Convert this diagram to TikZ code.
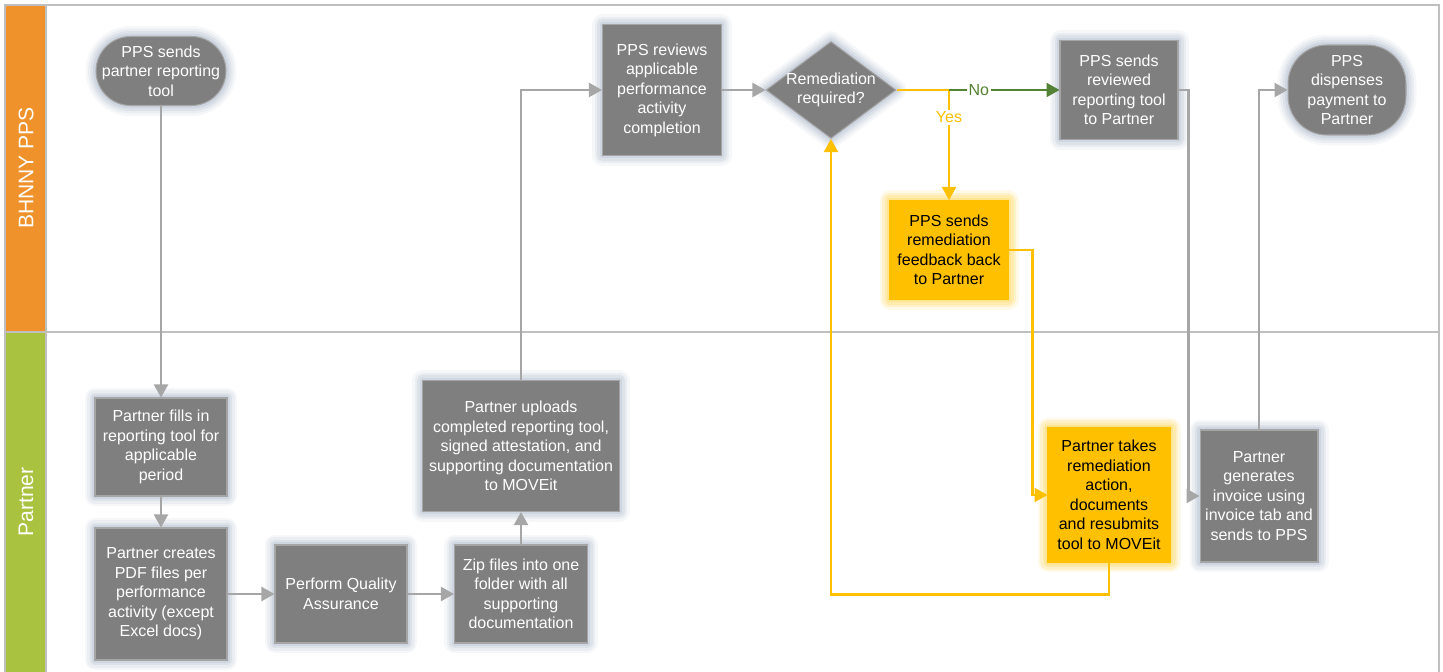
\documentclass[tikz,border=0pt]{standalone}
\usepackage{fontspec}
\setmainfont{Liberation Sans}
\usetikzlibrary{shapes.geometric,arrows.meta}
\definecolor{boxgray}{HTML}{7F7F7F}
\definecolor{edgegray}{HTML}{A5A5A5}
\definecolor{linegray}{HTML}{A6A6A6}
\definecolor{framegray}{HTML}{BFBFBF}
\definecolor{glowblue}{HTML}{B4BFD0}
\definecolor{remyellow}{HTML}{FFC000}
\definecolor{glowyellow}{HTML}{FFD966}
\definecolor{nogreen}{HTML}{548235}
\definecolor{laneorange}{HTML}{F0922B}
\definecolor{lanegreen}{HTML}{A9C23F}

\begin{document}
\begin{tikzpicture}[x=0.02cm,y=-0.02cm,font=\fontsize{9.1}{11.1}\selectfont]
    \tikzstyle{glow} = [preaction={draw=glowblue,line width=0.42cm,opacity=0.12,line join=round}, preaction={draw=glowblue,line width=0.32cm,opacity=0.18,line join=round}, preaction={draw=glowblue,line width=0.22cm,opacity=0.25,line join=round}, preaction={draw=glowblue,line width=0.12cm,opacity=0.35,line join=round}]
    \tikzstyle{yglow} = [preaction={draw=glowyellow,line width=0.42cm,opacity=0.15,line join=round}, preaction={draw=glowyellow,line width=0.32cm,opacity=0.22,line join=round}, preaction={draw=glowyellow,line width=0.22cm,opacity=0.3,line join=round}, preaction={draw=glowyellow,line width=0.12cm,opacity=0.4,line join=round}]
    \tikzstyle{proc} = [rectangle, align=center, inner sep=1pt, draw=edgegray, line width=0.6pt, fill=boxgray, text=white, glow]
    \tikzstyle{rem} = [rectangle, align=center, inner sep=1pt, draw=remyellow, line width=0.6pt, fill=remyellow, text=black, yglow]
    \tikzstyle{garrow} = [draw=linegray, line width=1.3pt, -{Triangle[length=0.26cm,width=0.28cm]}]
    \tikzstyle{yarrow} = [draw=remyellow, line width=1.3pt, -{Triangle[length=0.26cm,width=0.28cm]}]
    \tikzstyle{lane} = [rotate=90, text=white, font=\fontsize{12}{14}\selectfont]
    \useasboundingbox (0,0) rectangle (1443,672);
    \fill[laneorange] (5,5) rectangle (46,332);
    \fill[lanegreen] (5,333) rectangle (46,672);
    \draw[framegray, line width=0.8pt] (5,672) -- (5,5) -- (1439,5) -- (1439,672);
    \draw[framegray, line width=0.8pt] (5,332) -- (1439,332);
    \draw[framegray, line width=0.8pt] (46,5) -- (46,672);
    \node (bhnny) [lane] at (26,168) {BHNNY PPS};
    \node (partner) [lane] at (26,502) {Partner};

    \node (send)     [proc, rounded corners=0.69cm, minimum width=2.6cm, minimum height=1.38cm] at (161,71) {PPS sends\\partner reporting\\tool};
    \node (review)   [proc, minimum width=2.38cm, minimum height=2.62cm] at (662,90) {PPS reviews\\applicable\\performance\\activity\\completion};
    \node (remreq)   [diamond, draw=edgegray, line width=0.6pt, fill=boxgray, glow, inner sep=0pt, minimum width=2.6cm, minimum height=1.94cm, label={[text=white,align=center]center:Remediation\\required?}] at (831,90) {};
    \node (returned) [proc, minimum width=2.36cm, minimum height=1.98cm] at (1119,90) {PPS sends\\reviewed\\reporting tool\\to Partner};
    \node (pay)      [proc, rounded corners=0.78cm, minimum width=2.36cm, minimum height=1.8cm] at (1347,90) {PPS\\dispenses\\payment to\\Partner};
    \node (feedback) [rem, minimum width=2.36cm, minimum height=1.98cm] at (949,250) {PPS sends\\remediation\\feedback back\\to Partner};

    \node (fill)     [proc, minimum width=2.64cm, minimum height=1.96cm] at (161,447) {Partner fills in\\reporting tool for\\applicable\\period};
    \node (pdf)      [proc, minimum width=2.64cm, minimum height=2.64cm] at (161,594) {Partner creates\\PDF files per\\performance\\activity (except\\Excel docs)};
    \node (qa)       [proc, minimum width=2.64cm, minimum height=1.96cm] at (341,594) {Perform Quality\\Assurance};
    \node (zip)      [proc, minimum width=2.66cm, minimum height=1.96cm] at (521,594) {Zip files into one\\folder with all\\supporting\\documentation};
    \node (upload)   [proc, minimum width=3.94cm, minimum height=2.62cm] at (521,446) {Partner uploads\\completed reporting tool,\\signed attestation, and\\supporting documentation\\to MOVEit};
    \node (fix)      [rem, minimum width=2.44cm, minimum height=2.68cm] at (1109,495) {Partner takes\\remediation\\action,\\documents\\and resubmits\\tool to MOVEit};
    \node (invoice)  [proc, minimum width=2.36cm, minimum height=2.64cm] at (1259,496) {Partner\\generates\\invoice using\\invoice tab and\\sends to PPS};
    \coordinate (split) at (949,90);

    \draw[garrow] (send) -- (fill);
    \draw[garrow] (fill) -- (pdf);
    \draw[garrow] (pdf) -- (qa);
    \draw[garrow] (qa) -- (zip);
    \draw[garrow] (zip) -- (upload);
    \draw[garrow] (upload.north) |- (review.west);
    \draw[garrow] (review) -- (remreq);
    \draw[draw=remyellow, line width=1.3pt] (remreq.east) -- (split);
    \draw[yarrow] (split) -- node[pos=0.25, fill=white, inner sep=1pt, text=remyellow] {Yes} (feedback.north);
    \draw[draw=nogreen, line width=1.3pt, -{Triangle[length=0.26cm,width=0.28cm]}] (split) -- node[pos=0.27, fill=white, inner sep=1pt, text=nogreen] {No} (returned.west);
    \draw[yarrow] (feedback.east) -- ++(24,0) |- (fix.west);
    \draw[yarrow] (fix.south) -- ++(0,32) -| (remreq.south);
    \draw[garrow] (returned.east) -- ++(10,0) |- (invoice.west);
    \draw[garrow] (invoice.north) |- (pay.west);
\end{tikzpicture}
\end{document}
